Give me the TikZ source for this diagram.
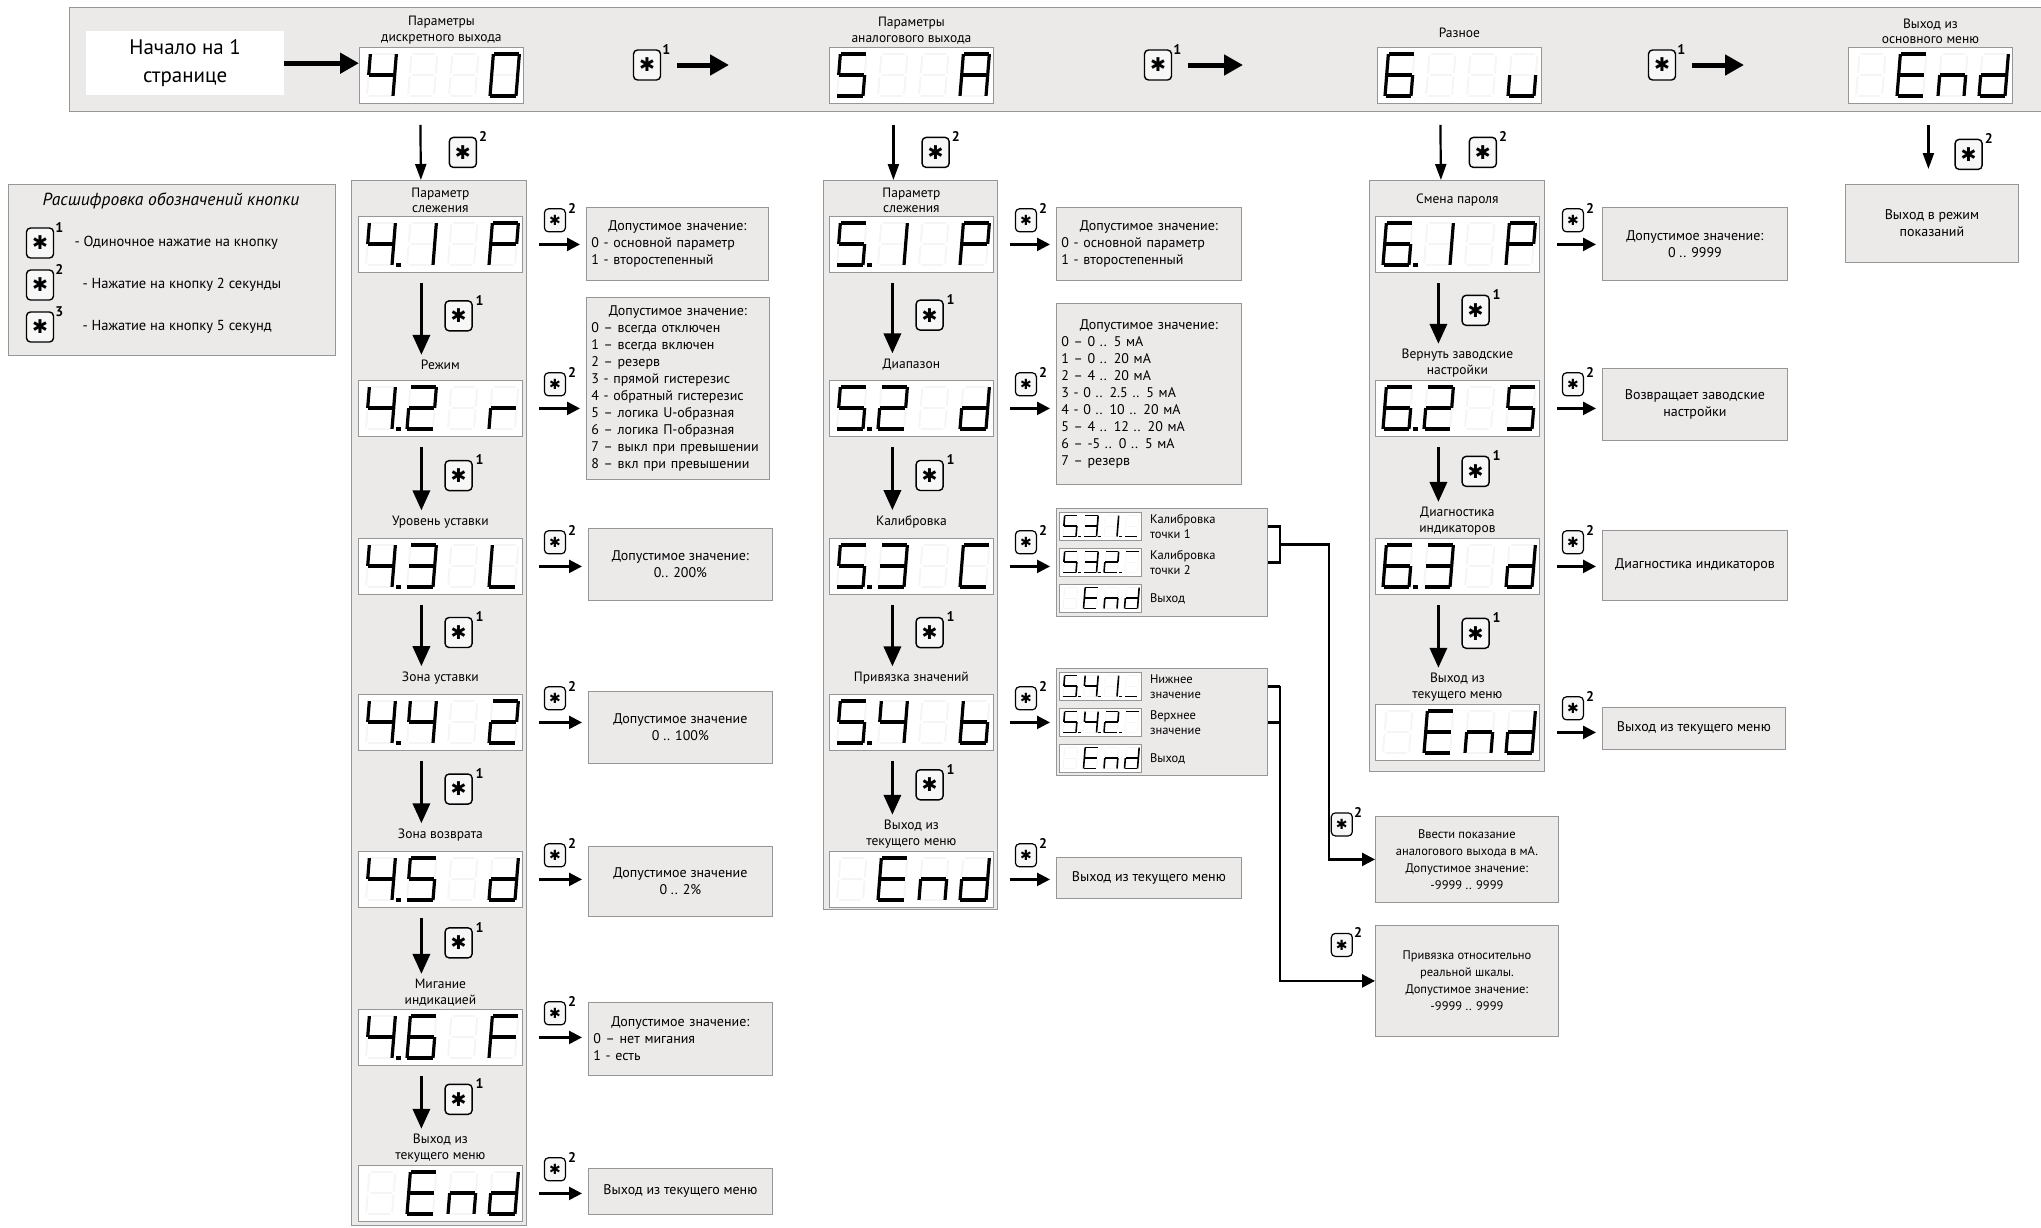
\documentclass[tikz,border=0pt]{standalone}
\usepackage{fontspec}
\setmainfont{PT Sans}
\newfontfamily\symf{DejaVu Sans}
\usetikzlibrary{arrows.meta,positioning,calc}

\definecolor{panelfill}{RGB}{236,233,233}
\definecolor{panelline}{RGB}{150,150,150}

% сегменты индикатора: a..g, p - точка, z - пусто
\newcommand\segma[1]{\draw[#1] (0.08,2) -- (0.92,2);}
\newcommand\segmb[1]{\draw[#1] (1,1.92) -- (1,1.08);}
\newcommand\segmc[1]{\draw[#1] (1,0.92) -- (1,0.08);}
\newcommand\segmd[1]{\draw[#1] (0.08,0) -- (0.92,0);}
\newcommand\segme[1]{\draw[#1] (0,0.92) -- (0,0.08);}
\newcommand\segmf[1]{\draw[#1] (0,1.92) -- (0,1.08);}
\newcommand\segmg[1]{\draw[#1] (0.08,1) -- (0.92,1);}
\newcommand\segmp[1]{\draw[#1] (1.2,0) -- (1.3,0);}
\newcommand\segmz[1]{}

\newcommand\boxhead[1]{\makebox[\hsize][c]{#1}}
\newcommand\asterisk{{\symf ✱}}

% индикатор: имя, левый верхний угол, масштаб, знакоместа
\newcommand\segdisplay[4]{%
  \begin{scope}[shift={#2}, scale=#3]
    \def\dscale{#3}
    \node[lcdbox, minimum width={164pt*#3}, minimum height={56pt*#3}, anchor=north west] (#1) at (0,0) {};
    \foreach \digspec [count=\i] in {#4}{
      \begin{scope}[shift={({8+(\i-1)*41},49)}, x=26pt, y=21pt, xslant=0.08]
        \foreach \s in {a,b,c,d,e,f,g}{\csname segm\s\endcsname{ghost}}
        \foreach \s in \digspec {\csname segm\s\endcsname{lit}}
      \end{scope}
    }
  \end{scope}}

\begin{document}
\begin{tikzpicture}[x=1pt, y=-1pt,
  panel/.style={draw=panelline, fill=panelfill, line width=0.8pt, inner sep=0pt, anchor=north west},
  lcdbox/.style={draw=panelline, fill=white, line width=0.8pt, inner sep=0pt},
  lit/.style={line width=3.2pt*\dscale, line cap=rect},
  ghost/.style={draw=black!4, line width=1.8pt*\dscale},
  ttl/.style={font=\fontsize{13.5}{15.5}\selectfont, align=center, inner sep=1pt, anchor=south},
  vbox/.style={draw=panelline, fill=panelfill, line width=0.8pt, inner sep=5pt, anchor=north west, font=\fontsize{14}{17}\selectfont},
  minilbl/.style={font=\fontsize{12.5}{15}\selectfont, align=left, inner sep=0pt, anchor=west},
  lgtext/.style={anchor=west, font=\fontsize{14.5}{16}\selectfont},
  key/.style={draw, line width=1.4pt, rounded corners=4pt, fill=black!3, minimum width=27pt, minimum height=30pt, inner sep=0pt, font=\fontsize{19}{19}\selectfont},
  skey/.style={key, line width=1.2pt, minimum width=21pt, minimum height=23pt, font=\fontsize{14}{14}\selectfont},
  sup/.style={font=\bfseries\fontsize{14}{14}\selectfont, inner sep=0pt, anchor=west, xshift=1pt},
  key1/.style={key, label={[sup]north east:1}},
  key2/.style={key, label={[sup]north east:2}},
  key3/.style={key, label={[sup]north east:3}},
  skey2/.style={skey, label={[sup]north east:2}},
  barr/.style={line width=5pt, -{Triangle[length=19pt,width=20pt]}},
  tarr/.style={line width=2.2pt, -{Triangle[length=16pt,width=11pt]}},
  darr/.style={line width=3.5pt, -{Triangle[length=20pt,width=17pt]}},
  rarr/.style={line width=2.4pt, -{Triangle[length=13pt,width=13pt]}},
  wire/.style={line width=2.4pt}]

\useasboundingbox (0,0) rectangle (2041,1227);
\fill[white] (0,0) rectangle (2041,1227);

% Главное меню
\node[panel, minimum width=1972pt, minimum height=104pt] (band) at (69,7) {};
\node[anchor=north west, fill=white, minimum width=198pt, minimum height=64pt, font=\fontsize{21}{28}\selectfont, align=center] (start) at (86,31) {Начало на 1\\странице};

\segdisplay{d40}{(359,47)}{1}{{b,c,f,g},{z},{z},{a,b,c,d,e,f}}
\segdisplay{d5A}{(829,47)}{1}{{a,c,d,f,g},{z},{z},{a,b,c,e,f,g}}
\segdisplay{d6u}{(1377,47)}{1}{{a,c,d,e,f,g},{z},{z},{c,d,e}}
\segdisplay{dEnd}{(1848,47)}{1}{{z},{a,d,e,f,g},{c,e,g},{b,c,d,e,g}}

\node[ttl] (t40) at ([yshift=2pt]d40.north) {Параметры\\дискретного выхода};
\node[ttl] (t5A) at ([yshift=2pt]d5A.north) {Параметры\\аналогового выхода};
\node[ttl] (t6u) at ([yshift=8pt]d6u.north) {Разное};
\node[ttl] (tEnd) at ([yshift=2pt]dEnd.north) {Выход из\\основного меню};

\node[key1] (k4) at (647,65) {\asterisk};
\node[key1] (k5) at (1158,65) {\asterisk};
\node[key1] (k6) at (1662,65) {\asterisk};

\draw[barr] (start.east) -- (start.east -| d40.west);
\draw[barr, shorten >=100pt] ([xshift=16pt]k4.east) -- (k4.east -| d5A.west);
\draw[barr, shorten >=134pt] ([xshift=16pt]k5.east) -- (k5.east -| d6u.west);
\draw[barr, shorten >=104pt] ([xshift=16pt]k6.east) -- (k6.east -| dEnd.west);

% Расшифровка кнопок
\node[panel, minimum width=327pt, minimum height=171pt] (legend) at (8,184) {};
\node[font=\itshape\fontsize{17.5}{18}\selectfont] (lgt) at (171,201) {Расшифровка обозначений кнопки};
\node[key1] (lk1) at (40,243) {\asterisk};
\node[key2] (lk2) at (40,285) {\asterisk};
\node[key3] (lk3) at (40,327) {\asterisk};
\node[lgtext] (lt1) at (71,243) {- Одиночное нажатие на кнопку};
\node[lgtext] (lt2) at (79,285) {- Нажатие на кнопку 2 секунды};
\node[lgtext] (lt3) at (79,327) {- Нажатие на кнопку 5 секунд};

% Колонки подменю
\node[panel, minimum width=175pt, minimum height=1045pt] (p4) at (351,180) {};
\node[panel, minimum width=174pt, minimum height=729pt] (p5) at (823,180) {};
\node[panel, minimum width=175pt, minimum height=591pt] (p6) at (1369,180) {};

\segdisplay{d41}{(358,216)}{1}{{b,c,f,g,p},{b,c},{z},{a,b,e,f,g}}
\segdisplay{d42}{(358,380)}{1}{{b,c,f,g,p},{a,b,d,e,g},{z},{e,g}}
\segdisplay{d43}{(358,538)}{1}{{b,c,f,g,p},{a,b,c,d,g},{z},{d,e,f}}
\segdisplay{d44}{(358,694)}{1}{{b,c,f,g,p},{b,c,f,g},{z},{a,b,d,e,g}}
\segdisplay{d45}{(358,851)}{1}{{b,c,f,g,p},{a,c,d,f,g},{z},{b,c,d,e,g}}
\segdisplay{d46}{(358,1009)}{1}{{b,c,f,g,p},{a,c,d,e,f,g},{z},{a,e,f,g}}
\segdisplay{d47}{(358,1165)}{1}{{z},{a,d,e,f,g},{c,e,g},{b,c,d,e,g}}

\segdisplay{d51}{(829,216)}{1}{{a,c,d,f,g,p},{b,c},{z},{a,b,e,f,g}}
\segdisplay{d52}{(829,380)}{1}{{a,c,d,f,g,p},{a,b,d,e,g},{z},{b,c,d,e,g}}
\segdisplay{d53}{(829,538)}{1}{{a,c,d,f,g,p},{a,b,c,d,g},{z},{a,d,e,f}}
\segdisplay{d54}{(829,694)}{1}{{a,c,d,f,g,p},{b,c,f,g},{z},{c,d,e,f,g}}
\segdisplay{d55}{(829,851)}{1}{{z},{a,d,e,f,g},{c,e,g},{b,c,d,e,g}}

\segdisplay{d61}{(1375,216)}{1}{{a,c,d,e,f,g,p},{b,c},{z},{a,b,e,f,g}}
\segdisplay{d62}{(1375,380)}{1}{{a,c,d,e,f,g,p},{a,b,d,e,g},{z},{a,c,d,f,g}}
\segdisplay{d63}{(1375,538)}{1}{{a,c,d,e,f,g,p},{a,b,c,d,g},{z},{b,c,d,e,g}}
\segdisplay{d64}{(1375,704)}{1}{{z},{a,d,e,f,g},{c,e,g},{b,c,d,e,g}}

\foreach \n/\t/\h in {41/{Параметр\\слежения}/2pt, 42/Режим/9pt, 43/Уровень уставки/9pt,
    44/Зона уставки/9pt, 45/Зона возврата/9pt, 46/{Мигание\\индикацией}/2pt,
    47/{Выход из\\текущего меню}/2pt, 51/{Параметр\\слежения}/2pt, 52/Диапазон/9pt,
    53/Калибровка/9pt, 54/Привязка значений/9pt, 55/{Выход из\\текущего меню}/2pt,
    61/Смена пароля/9pt, 62/{Вернуть заводские\\настройки}/2pt,
    63/{Диагностика\\индикаторов}/2pt, 64/{Выход из\\текущего меню}/2pt}
  \node[ttl] (l\n) at ([yshift=\h]d\n.north) {\t};

% Поля значений
\node[vbox, minimum width=182pt, minimum height=73pt, text width=172pt, align=left] (b41) at (586,207) {\boxhead{Допустимое значение:}\\0 - основной параметр\\1 - второстепенный};
\node[vbox, minimum width=183pt, minimum height=182pt, text width=173pt, align=left] (b42) at (586,297) {\boxhead{Допустимое значение:}\\0 – всегда отключен\\1 – всегда включен\\2 – резерв\\3 - прямой гистерезис\\4 - обратный гистерезис\\5 – логика U-образная\\6 – логика П-образная\\7 – выкл при превышении\\8 – вкл при превышении};
\node[vbox, minimum width=184pt, minimum height=72pt, align=center] (b43) at (588,528) {Допустимое значение:\\0.. 200\%};
\node[vbox, minimum width=184pt, minimum height=72pt, align=center] (b44) at (588,691) {Допустимое значение\\0 .. 100\%};
\node[vbox, minimum width=184pt, minimum height=70pt, align=center] (b45) at (588,846) {Допустимое значение\\0 .. 2\%};
\node[vbox, minimum width=184pt, minimum height=73pt, text width=174pt, align=left] (b46) at (588,1002) {\boxhead{Допустимое значение:}\\0 – нет мигания\\1 - есть};
\node[vbox, minimum width=184pt, minimum height=46pt, align=center] (b47) at (588,1168) {Выход из текущего меню};

\node[vbox, minimum width=185pt, minimum height=73pt, text width=175pt, align=left] (b51) at (1056,207) {\boxhead{Допустимое значение:}\\0 - основной параметр\\1 - второстепенный};
\node[vbox, minimum width=185pt, minimum height=181pt, text width=175pt, align=left] (b52) at (1056,303) {\boxhead{Допустимое значение:}\\0 – 0 .. 5 мА\\1 – 0 .. 20 мА\\2 – 4 .. 20 мА\\3 - 0 .. 2.5 .. 5 мА\\4 - 0 .. 10 .. 20 мА\\5 – 4 .. 12 .. 20 мА\\6 – -5 .. 0 .. 5 мА\\7 – резерв};
\node[vbox, minimum width=211pt, minimum height=108pt] (b53) at (1056,508) {};
\node[vbox, minimum width=211pt, minimum height=107pt] (b54) at (1056,668) {};
\node[vbox, minimum width=185pt, minimum height=41pt, align=center] (b55) at (1056,857) {Выход из текущего меню};

\node[vbox, minimum width=185pt, minimum height=73pt, align=center] (b61) at (1602,207) {Допустимое значение:\\0 .. 9999};
\node[vbox, minimum width=185pt, minimum height=72pt, align=center] (b62) at (1602,368) {Возвращает заводские\\настройки};
\node[vbox, minimum width=185pt, minimum height=70pt, align=center] (b63) at (1602,530) {Диагностика индикаторов};
\node[vbox, minimum width=183pt, minimum height=42pt, align=center] (b64) at (1602,707) {Выход из текущего меню};

\node[vbox, minimum width=173pt, minimum height=78pt, align=center] (bE) at (1845,184) {Выход в режим\\показаний};
\node[vbox, minimum width=183pt, minimum height=86pt, align=center, font=\fontsize{12.5}{17}\selectfont] (bIn) at (1375,816) {Ввести показание\\аналогового выхода в мА.\\Допустимое значение:\\-9999 .. 9999};
\node[vbox, minimum width=183pt, minimum height=111pt, align=center, font=\fontsize{12.5}{17}\selectfont] (bBind) at (1375,925) {Привязка относительно\\реальной шкалы.\\Допустимое значение:\\-9999 .. 9999};

% Калибровка и привязка
\segdisplay{m531}{(1059,512)}{0.5}{{a,c,d,f,g,p},{a,b,c,d,g,p},{b,c,p},{d}}
\segdisplay{m532}{(1059,548)}{0.5}{{a,c,d,f,g,p},{a,b,c,d,g,p},{a,b,d,e,g,p},{a}}
\segdisplay{m53e}{(1059,584)}{0.5}{{z},{a,d,e,f,g},{c,e,g},{b,c,d,e,g}}
\segdisplay{m541}{(1059,672)}{0.5}{{a,c,d,f,g,p},{b,c,f,g,p},{b,c,p},{d}}
\segdisplay{m542}{(1059,708)}{0.5}{{a,c,d,f,g,p},{b,c,f,g,p},{a,b,d,e,g,p},{a}}
\segdisplay{m54e}{(1059,744)}{0.5}{{z},{a,d,e,f,g},{c,e,g},{b,c,d,e,g}}

\node[minilbl] (n531) at ([xshift=8pt]m531.east) {Калибровка\\точки 1};
\node[minilbl] (n532) at ([xshift=8pt]m532.east) {Калибровка\\точки 2};
\node[minilbl] (n53e) at ([xshift=8pt]m53e.east) {Выход};
\node[minilbl] (n541) at ([xshift=8pt]m541.east) {Нижнее\\значение};
\node[minilbl] (n542) at ([xshift=8pt]m542.east) {Верхнее\\значение};
\node[minilbl] (n54e) at ([xshift=8pt]m54e.east) {Выход};

% Переходы
\draw[tarr] ([xshift=-21pt,yshift=-21pt]d40.south) -- ([xshift=-18pt]p4.north) node[key2, midway, right=28pt] {\asterisk};
\draw[tarr] ([xshift=-18pt,yshift=-21pt]d5A.south) -- ([xshift=-17pt]p5.north) node[key2, midway, right=28pt] {\asterisk};
\draw[tarr] ([xshift=-19pt,yshift=-21pt]d6u.south) -- ([xshift=-16pt]p6.north) node[key2, midway, right=28pt] {\asterisk};
\draw[tarr, shorten >=15pt] ([xshift=-2pt,yshift=-21pt]dEnd.south) -- ([xshift=-2pt]dEnd.south |- bE.north) node[key2, midway, right=26pt] {\asterisk};

\foreach \a/\b in {41/42,42/43,43/44,44/45,45/46,46/47,51/52,52/53,53/54,54/55,61/62,62/63,63/64}
  \draw[darr, shorten <=10pt, shorten >=4pt] ([xshift=-19pt]d\a.south) -- ([xshift=-19pt]l\b.north) node[key1, midway, right=23pt] {\asterisk};

\foreach \i/\p in {41/p4,42/p4,43/p4,44/p4,45/p4,46/p4,47/p4,51/p5,52/p5,53/p5,54/p5,55/p5,61/p6,62/p6,63/p6,64/p6}
  \draw[rarr, shorten >=6pt] ([xshift=12pt]d\i.east -| \p.east) -- (d\i.east -| b\i.west) node[skey2, pos=0, above right=12pt and 5pt] {\asterisk};

\coordinate (j53) at ($(b53.east |- m531.east)!0.5!(b53.east |- m532.east) + (12,0)$);
\coordinate (v53) at ([xshift=49pt]j53);
\draw[wire] (b53.east |- m531.east) -| (j53) |- (b53.east |- m532.east);
\draw[rarr] (j53) -- (v53) |- (bIn.west);
\node[skey2] (kIn) at ([xshift=13pt,yshift=35pt]v53 |- bIn.west) {\asterisk};

\coordinate (j54) at ([xshift=12pt]b54.east |- m541.east);
\draw[wire] (b54.east |- m541.east) -- (j54);
\draw[wire] (b54.east |- m542.east) -- (j54 |- m542.east);
\draw[rarr] (j54) |- (bBind.west);
\node[skey2] (kBind) at ([xshift=62pt,yshift=36pt]j54 |- bBind.west) {\asterisk};
\end{tikzpicture}
\end{document}
